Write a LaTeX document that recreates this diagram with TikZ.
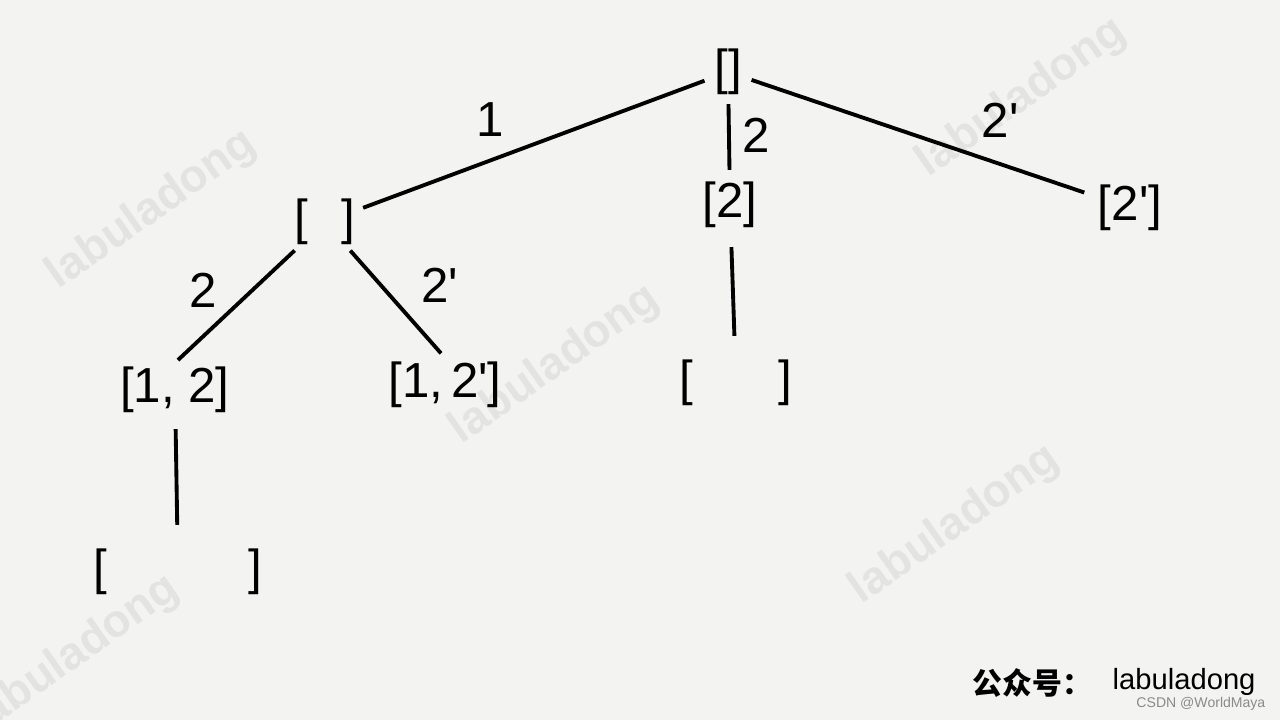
\documentclass[tikz,border=0pt]{standalone}
\usepackage{fontspec}
\setmainfont{Liberation Sans}[Ligatures=TeXOff]
\newfontfamily\cjkfont{Noto Sans CJK SC}
\usetikzlibrary{positioning}

\definecolor{paper}{HTML}{F3F3F1}
\definecolor{wmark}{HTML}{E3E3E1}
\definecolor{sign}{HTML}{8A8A8A}

\tikzset{
  state/.style={inner sep=1pt, font=\fontsize{14}{14}\selectfont},
  elabel/.style={inner sep=0pt, font=\fontsize{14}{14}\selectfont},
  edge/.style={line width=1.1pt},
  wm/.style={text=wmark, rotate=35, font=\fontsize{13}{13}\selectfont\bfseries}
}

\begin{document}
\begin{tikzpicture}
\fill[paper] (0,0) rectangle (12.8,7.2);
\useasboundingbox (0,0) rectangle (12.8,7.2);

% watermarks
\node[wm] (wma) at (1.52,5.10) {labuladong};
\node[wm] (wmb) at (5.55,3.55) {labuladong};
\node[wm] (wmc) at (10.22,6.22) {labuladong};
\node[wm] (wmd) at (9.55,1.95) {labuladong};
\node[wm] (wme) at (0.75,0.65) {labuladong};

% tree
\node[state] (root) at (7.28,6.48) {[]};
\node[state] (n1) at (3.25,4.98) {[\hspace{0.33cm}]};
\node[state] (n2) at (7.30,5.15) {[2]};
\node[state] (n2p) at (11.30,5.12) {[2']};
\node[state] (n12) at (1.75,3.30) {[1, 2]};
\node[state] (n12p) at (4.45,3.35) {[1,\,2']};
\node[state] (n2x) at (7.36,3.37) {[\hspace{0.85cm}]};
\node[state] (n12x) at (1.78,1.48) {[\hspace{1.42cm}]};

\draw[edge, shorten <=0.06cm, shorten >=0.04cm] (root) -- (n1);
\draw[edge, shorten <=0.05cm, shorten >=0.08cm] (root) -- (n2);
\draw[edge, shorten <=0.06cm, shorten >=0.10cm] (root) -- (n2p);
\draw[edge, shorten <=0.02cm, shorten >=0.04cm] (n1) -- (n12.north);
\draw[edge, shorten <=0.02cm, shorten >=0.06cm] (n1) -- (n12p.north);
\draw[edge, shorten <=0.15cm, shorten >=0.20cm] (n2) -- (n2x);
\draw[edge, shorten <=0.12cm, shorten >=0.20cm] (n12) -- (n12x);

\node[elabel] (l1) at (4.90,6.00) {1};
\node[elabel] (l2) at (7.56,5.85) {2};
\node[elabel] (l2p) at (10.00,6.00) {2'};
\node[elabel] (l12) at (2.03,4.30) {2};
\node[elabel] (l12p) at (4.40,4.35) {2'};

% signature
\node[inner sep=0pt, anchor=west, font=\fontsize{8.5}{8.5}\selectfont\cjkfont\bfseries] (gzh) at (9.72,0.37) {公众号：};
\node[inner sep=0pt, anchor=west, font=\fontsize{8.3}{8.3}\selectfont] (lbl) at (11.12,0.38) {labuladong};
\node[inner sep=0pt, anchor=east, text=sign, font=\fontsize{4}{4}\selectfont] (csdn) at (12.66,0.16) {CSDN @WorldMaya};
\end{tikzpicture}
\end{document}
